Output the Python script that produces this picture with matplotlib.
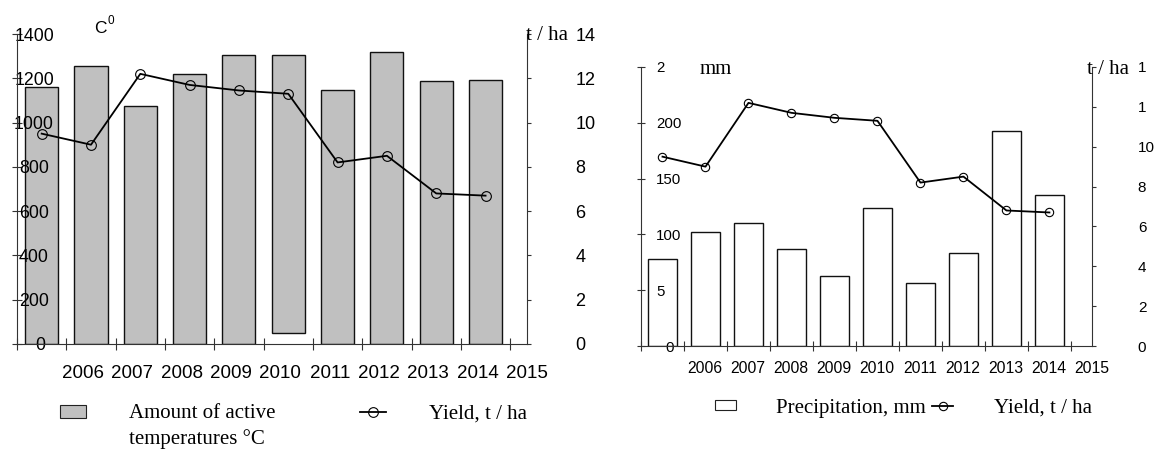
import matplotlib
matplotlib.use("Agg")
import matplotlib.pyplot as plt
from matplotlib.patches import Patch
from matplotlib.lines import Line2D
from matplotlib.transforms import ScaledTranslation

plt.rcParams['font.family'] = ['Liberation Sans', 'DejaVu Sans']

# data
years = ['2006', '2007', '2008', '2009', '2010', '2011', '2012', '2013', '2014', '2015']
temp_top = [1159, 1257, 1075, 1219, 1305, 1305, 1147, 1317, 1189, 1194]
temp_base = [0, 0, 0, 0, 0, 50, 0, 0, 0, 0]
precip = [77.7, 101.8, 110.4, 86.6, 62.5, 123.5, 56.8, 83.3, 192.9, 135.4]
yield_t = [9.5, 9.0, 12.2, 11.7, 11.45, 11.3, 8.2, 8.5, 6.8, 6.7]

temp_ticks = [0, 200, 400, 600, 800, 1000, 1200, 1400]
yield_ticks = [0, 2, 4, 6, 8, 10, 12, 14]
precip_ticks = [0, 50, 100, 150, 200, 250]
precip_labels = ['0', '5', '100', '150', '200', '2']
yield_labels_r = ['0', '2', '4', '6', '8', '10', '1', '1']

W, H = 1156, 449
SERIF = 'Liberation Serif'
SPINE = '#333333'


def box(l, t, r, b):
    return [l / W, 1 - b / H, (r - l) / W, (b - t) / H]


def shift(lbl, dx_px, fig):
    lbl.set_transform(lbl.get_transform() + ScaledTranslation(dx_px / 100, 0, fig.dpi_scale_trans))


fig = plt.figure(figsize=(11.56, 4.49), dpi=100)
n = len(years)
x = list(range(n))

# ---------- left panel: active temperatures ----------
ax1 = fig.add_axes(box(17, 34, 527, 344))
ax1.bar(x, [t - b for t, b in zip(temp_top, temp_base)], bottom=temp_base, width=0.67,
        color='#c0c0c0', edgecolor='#111111', linewidth=1.0)
ax1.set_xlim(-0.5, n - 0.5)
ax1.set_ylim(0, 1400)
ax1.set_yticks(temp_ticks)
ax1.tick_params(axis='y', direction='inout', length=6.5, width=0.8, pad=-15.5,
                labelsize=12.8, color=SPINE)
for lbl in ax1.get_yticklabels():
    lbl.set_horizontalalignment('center')
shift(ax1.get_yticklabels()[0], 6, fig)
ax1.set_xticks([i + 0.84 for i in x], years)
ax1.set_xticks([i - 0.5 for i in range(n + 1)], minor=True)
ax1.tick_params(axis='x', which='major', length=0, pad=15, labelsize=13.5)
ax1.tick_params(axis='x', which='minor', direction='inout', length=8, width=0.8, color=SPINE)
for s in ('top', 'right'):
    ax1.spines[s].set_visible(False)
for s in ('left', 'bottom'):
    ax1.spines[s].set_color(SPINE)
    ax1.spines[s].set_linewidth(0.8)

ax1r = ax1.twinx()
ax1r.set_ylim(0, 14)
ax1r.set_yticks(yield_ticks)
ax1r.tick_params(axis='y', direction='out', length=3, width=0.8, pad=32, labelsize=13, color=SPINE)
ax1r.plot(x, yield_t, color='black', lw=1.3, marker='o', ms=7, mfc='none', mec='black', mew=0.8)
for s in ('top', 'left', 'bottom'):
    ax1r.spines[s].set_visible(False)
ax1r.spines['right'].set_color(SPINE)
ax1r.spines['right'].set_linewidth(0.8)

fig.text(94 / W, 1 - 33 / H, 'C', fontsize=12.5, va='baseline')
fig.text(107.5 / W, 1 - 24 / H, '0', fontsize=8.5, va='baseline')
fig.text(526 / W, 1 - 40 / H, 't / ha', fontsize=15, family=SERIF, va='baseline')

fig.legend([Patch(facecolor='#c0c0c0', edgecolor='#222222', linewidth=0.8),
            Line2D([], [], color='black', lw=1.3, marker='o', ms=7, mfc='none', mew=0.8)],
           ['Amount of active', 'Yield, t / ha'], ncol=2, loc='center left',
           bbox_to_anchor=(60 / W, 1 - 414 / H), bbox_transform=fig.transFigure,
           frameon=False, borderpad=0, borderaxespad=0, prop={'family': SERIF, 'size': 15},
           handlelength=1.24, handleheight=0.57, handletextpad=2.05, columnspacing=4.1)
fig.text(129 / W, 1 - 444 / H, 'temperatures °C', fontsize=15, family=SERIF, va='baseline')

# ---------- right panel: precipitation ----------
ax2 = fig.add_axes(box(641, 67, 1092, 346))
ax2.bar(x, precip, width=0.66, color='white', edgecolor='#111111', linewidth=1.0)
ax2.set_xlim(-0.5, n - 0.5)
ax2.set_ylim(0, 250)
ax2.set_yticks(precip_ticks, precip_labels)
ax2.tick_params(axis='y', direction='inout', length=6, width=0.8, pad=-13.8,
                labelsize=10.8, color=SPINE)
for lbl in ax2.get_yticklabels():
    lbl.set_horizontalalignment('left')
shift(ax2.get_yticklabels()[0], 9, fig)
ax2.set_xticks([i + 0.99 for i in x], years)
ax2.set_xticks([i - 0.5 for i in range(n + 1)], minor=True)
ax2.tick_params(axis='x', which='major', length=0, pad=11, labelsize=11.3)
ax2.tick_params(axis='x', which='minor', direction='inout', length=6.5, width=0.8, color=SPINE)
for s in ('top', 'right'):
    ax2.spines[s].set_visible(False)
for s in ('left', 'bottom'):
    ax2.spines[s].set_color(SPINE)
    ax2.spines[s].set_linewidth(0.8)

ax2r = ax2.twinx()
ax2r.set_ylim(0, 14)
ax2r.set_yticks(yield_ticks, yield_labels_r)
ax2r.tick_params(axis='y', direction='out', length=3, width=0.8, pad=30, labelsize=11, color=SPINE)
ax2r.plot(x, yield_t, color='black', lw=1.3, marker='o', ms=6, mfc='none', mec='black', mew=0.8)
for s in ('top', 'left', 'bottom'):
    ax2r.spines[s].set_visible(False)
ax2r.spines['right'].set_color(SPINE)
ax2r.spines['right'].set_linewidth(0.8)

fig.text(700 / W, 1 - 74 / H, 'mm', fontsize=15, family=SERIF, va='baseline')
fig.text(1087 / W, 1 - 74 / H, 't / ha', fontsize=15, family=SERIF, va='baseline')

fig.legend([Patch(facecolor='white', edgecolor='#222222', linewidth=0.8),
            Line2D([], [], color='black', lw=1.3, marker='o', ms=6, mfc='none', mew=0.8)],
           ['Precipitation, mm', 'Yield, t / ha'], ncol=2, loc='center left',
           bbox_to_anchor=(715 / W, 1 - 408 / H), bbox_transform=fig.transFigure,
           frameon=False, borderpad=0, borderaxespad=0, prop={'family': SERIF, 'size': 15},
           handlelength=1.0, handleheight=0.29, handletextpad=1.95, columnspacing=0.29)

fig.savefig('out.png', dpi=100)
